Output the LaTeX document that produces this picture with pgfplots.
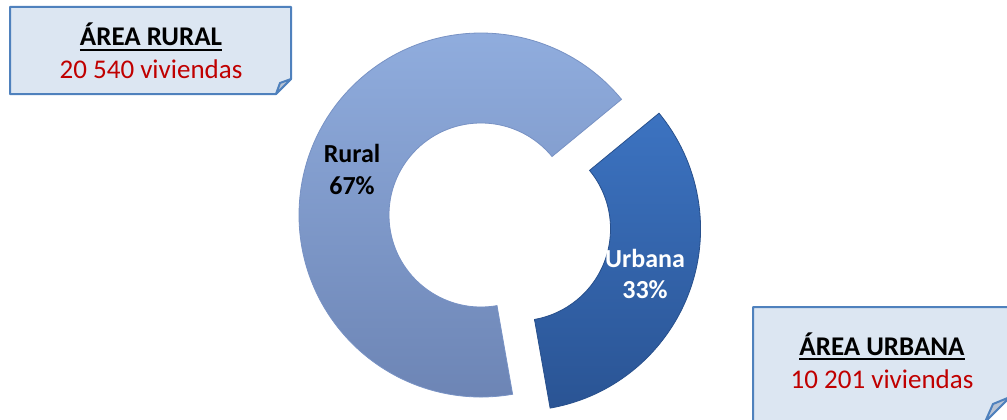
\documentclass[border=0pt]{standalone}
\usepackage{pgfplots}
\pgfplotsset{compat=1.18}
\usepackage{pgfplotstable}
\usepackage{fontspec}
\setmainfont{Carlito}

\definecolor{ruraltop}{RGB}{146,175,224}
\definecolor{ruralbot}{RGB}{108,132,180}
\definecolor{ruraledge}{RGB}{120,146,196}
\definecolor{urbtop}{RGB}{60,115,193}
\definecolor{urbbot}{RGB}{42,84,148}
\definecolor{urbedge}{RGB}{40,80,140}
\definecolor{boxfill}{RGB}{220,230,242}
\definecolor{boxline}{RGB}{79,129,189}
\definecolor{foldfill}{RGB}{184,195,212}
\definecolor{valred}{RGB}{192,0,0}

% viviendas por area
\pgfplotstableread{
area   count
Rural  20540
Urbana 10201
}\viviendas
\pgfplotstablegetelem{0}{count}\of\viviendas \edef\nrural{\pgfplotsretval}
\pgfplotstablegetelem{1}{count}\of\viviendas \edef\nurban{\pgfplotsretval}
\edef\spanurb{\fpeval{360*\nurban/(\nrural+\nurban)}}
\def\astart{-80}
\edef\acut{\fpeval{\astart+\spanurb}}
\edef\aend{\fpeval{\astart+360}}
\edef\amid{\fpeval{\astart+\spanurb/2}}
\edef\prural{\fpeval{round(100*\nrural/(\nrural+\nurban))}}
\edef\purban{\fpeval{round(100*\nurban/(\nrural+\nurban))}}
\def\lbl{\fontsize{26bp}{30bp}\selectfont}
\def\boxlbl{\fontsize{27bp}{31bp}\selectfont}

\begin{document}
\begin{tikzpicture}
\begin{axis}[
  width=1007bp, height=419bp, scale only axis,
  xmin=0, xmax=1007, ymin=0, ymax=419, y dir=reverse,
  hide axis, clip=true]
\coordinate (sw) at (axis cs:0,419);
\coordinate (ne) at (axis cs:1007,0);
\coordinate (cr) at (axis cs:481,215);
\coordinate (cu) at ([shift={(\amid:40bp)}]axis cs:481,215);

% Rural slice
\shadedraw[top color=ruraltop, bottom color=ruralbot, draw=ruraledge, line width=0.8bp]
  ([shift={(\acut:182bp)}]cr) arc[start angle=\acut, end angle=\aend, radius=182bp]
  -- ([shift={(\aend:92bp)}]cr) arc[start angle=\aend, end angle=\acut, radius=92bp] -- cycle;
% Urbana slice (exploded)
\shadedraw[top color=urbtop, bottom color=urbbot, draw=urbedge, line width=0.8bp]
  ([shift={(\astart:182bp)}]cu) arc[start angle=\astart, end angle=\acut, radius=182bp]
  -- ([shift={(\acut:92bp)}]cu) arc[start angle=\acut, end angle=\astart, radius=92bp] -- cycle;

\node[font=\lbl\bfseries, anchor=base, inner sep=0] at (axis cs:352,162) {Rural};
\node[font=\lbl\bfseries, anchor=base, inner sep=0] at (axis cs:352,194) {\prural\%};
\node[font=\lbl\bfseries, text=white, anchor=base, inner sep=0] at (axis cs:645,267) {Urbana};
\node[font=\lbl\bfseries, text=white, anchor=base, inner sep=0] at (axis cs:645,298) {\purban\%};

% text boxes
\filldraw[fill=boxfill, draw=boxline, line width=2bp, line join=round]
  (axis cs:10,7) -- (axis cs:291,7) -- (axis cs:291,79) -- (axis cs:276,94) -- (axis cs:10,94) -- cycle;
\filldraw[fill=foldfill, draw=boxline, line width=2bp, line join=round]
  (axis cs:291,79) -- (axis cs:280,83) -- (axis cs:276,94) -- cycle;
\node[font=\boxlbl\bfseries, anchor=base, inner sep=0] (tr) at (axis cs:151,46) {ÁREA RURAL};
\draw[line width=2bp] ([yshift=-4bp]tr.base west) -- ([yshift=-4bp]tr.base east);
\node[font=\boxlbl, text=valred, anchor=base, inner sep=0] at (axis cs:151,79) {20 540 viviendas};

\filldraw[fill=boxfill, draw=boxline, line width=2bp, line join=round]
  (axis cs:753,307) -- (axis cs:1010,307) -- (axis cs:1010,397) -- (axis cs:985,422) -- (axis cs:753,422) -- cycle;
\filldraw[fill=foldfill, draw=boxline, line width=2bp, line join=round]
  (axis cs:1010,397) -- (axis cs:993,404) -- (axis cs:985,422) -- cycle;
\node[font=\boxlbl\bfseries, anchor=base, inner sep=0] (tu) at (axis cs:882,355) {ÁREA URBANA};
\draw[line width=2bp] ([yshift=-4bp]tu.base west) -- ([yshift=-4bp]tu.base east);
\node[font=\boxlbl, text=valred, anchor=base, inner sep=0] at (axis cs:882,388) {10 201 viviendas};
\end{axis}
\pgfresetboundingbox
\path[use as bounding box] (sw) rectangle (ne);
\end{tikzpicture}
\end{document}
